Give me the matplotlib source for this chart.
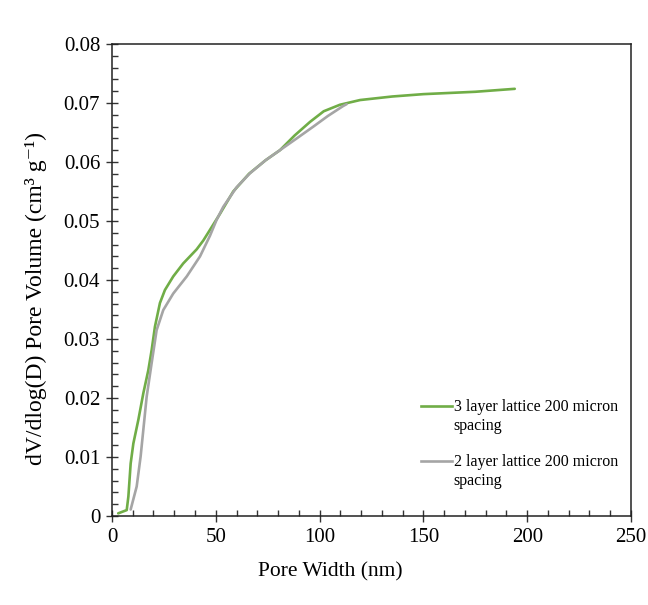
import matplotlib
matplotlib.use("Agg")
import matplotlib.pyplot as plt
from matplotlib.ticker import MultipleLocator, FixedLocator

plt.rcParams["font.family"] = ["Liberation Serif", "DejaVu Serif"]

# 3 layer lattice, 200 micron spacing
width_3layer = [3.0, 7.1, 7.9, 9.0, 10.3, 12.7, 15.1, 17.5, 19.1, 20.7, 23.1,
                25.5, 29.5, 34.3, 40.8, 44.0, 47.2, 52.0, 58.4, 66.0, 74.0,
                80.9, 88.0, 95.4, 102.0, 109.8, 119.5, 135.0, 150.0, 175.0,
                194.0]
volume_3layer = [0.00045, 0.0010, 0.0033, 0.0089, 0.0123, 0.0163, 0.0208,
                 0.0247, 0.0281, 0.0321, 0.0361, 0.0383, 0.0406, 0.0428,
                 0.0452, 0.0467, 0.0485, 0.0512, 0.0550, 0.0580, 0.0603,
                 0.0620, 0.0645, 0.0668, 0.0686, 0.0697, 0.0705, 0.0711,
                 0.0715, 0.0719, 0.0724]

# 2 layer lattice, 200 micron spacing
width_2layer = [9.0, 11.9, 13.8, 15.1, 16.7, 19.1, 21.5, 24.7, 29.5, 36.0,
                42.4, 47.2, 50.4, 53.6, 60.0, 66.5, 74.0, 80.9, 89.0, 97.0,
                104.0, 111.4, 113.0]
volume_2layer = [0.0011, 0.0050, 0.0101, 0.0146, 0.0202, 0.0259, 0.0315,
                 0.0349, 0.0377, 0.0406, 0.0440, 0.0475, 0.0502, 0.0524,
                 0.0557, 0.0581, 0.0603, 0.0620, 0.0640, 0.0660, 0.0678,
                 0.0695, 0.0698]

x_ticks = [0, 50, 100, 150, 200, 250]
y_ticks = [0, 0.01, 0.02, 0.03, 0.04, 0.05, 0.06, 0.07, 0.08]
y_tick_labels = ["0", "0.01", "0.02", "0.03", "0.04", "0.05", "0.06", "0.07", "0.08"]

label_3layer = "3 layer lattice 200 micron\nspacing"
label_2layer = "2 layer lattice 200 micron\nspacing"

green = "#70AD47"
grey = "#A5A5A5"

fig = plt.figure(figsize=(6.48, 6.05), dpi=100)
ax = fig.add_axes([0.1728, 0.1471, 0.8010, 0.7802])

ax.plot(width_3layer, volume_3layer, color=green, lw=1.9,
        solid_capstyle="round", solid_joinstyle="round")
ax.plot(width_2layer, volume_2layer, color=grey, lw=1.9,
        solid_capstyle="round", solid_joinstyle="round")

ax.set_xlim(0, 250)
ax.set_ylim(0, 0.08)
ax.xaxis.set_major_locator(FixedLocator(x_ticks))
ax.xaxis.set_minor_locator(MultipleLocator(10))
ax.yaxis.set_major_locator(FixedLocator(y_ticks))
ax.set_yticklabels(y_tick_labels)
ax.yaxis.set_minor_locator(MultipleLocator(0.002))

ax.tick_params(which="major", direction="inout", length=9, width=1, labelsize=15,
               color="#333333", pad=4)
ax.tick_params(which="minor", direction="in", length=4.5, width=1, color="#333333")
for s in ax.spines.values():
    s.set_linewidth(1.1)
    s.set_color("#222222")

ax.set_xlabel("Pore Width (nm)", fontsize=15.5)
ax.set_ylabel("dV/dlog(D) Pore Volume (cm³ g⁻¹)", fontsize=17)
ax.xaxis.set_label_coords(0.42, -0.097)
ax.yaxis.set_label_coords(-0.125, 0.46)

# legend entries with the sample line aligned to the first text line
entries = [(green, label_3layer, 0.233), (grey, label_2layer, 0.1165)]
for color, text, yy in entries:
    ax.plot([0.595, 0.655], [yy, yy], color=color, lw=1.9, transform=ax.transAxes,
            clip_on=False)
    ax.text(0.658, yy + 0.015, text, transform=ax.transAxes, fontsize=11.5,
            va="top", ha="left", linespacing=1.25)

fig.savefig("out.png", dpi=100)
